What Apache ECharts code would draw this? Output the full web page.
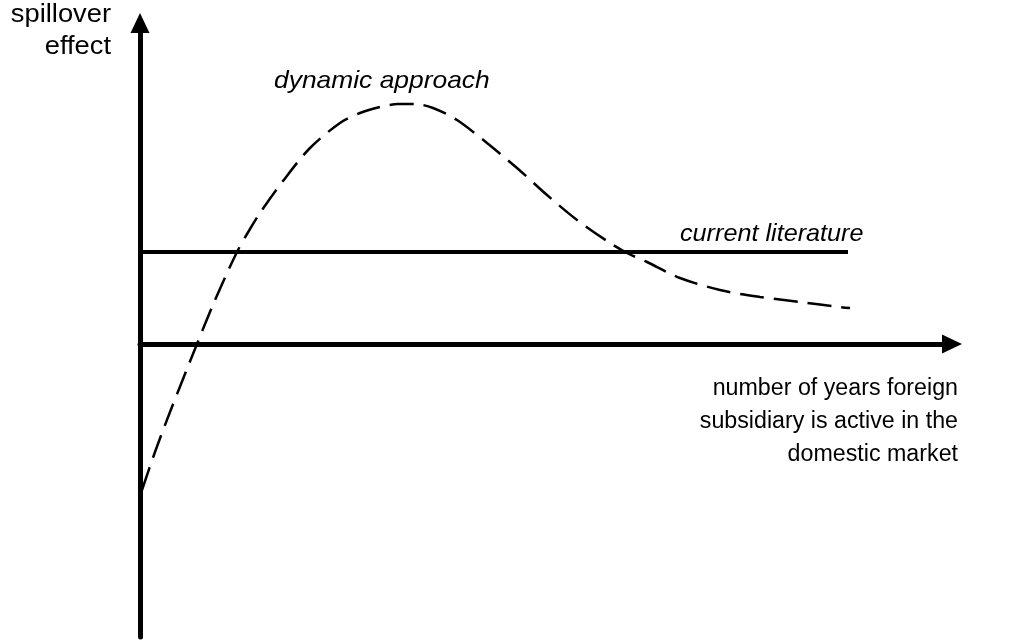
<!DOCTYPE html>
<html>
<head>
<meta charset="utf-8">
<script src="https://cdn.jsdelivr.net/npm/echarts@6/dist/echarts.min.js"></script>
<style>
html,body{margin:0;padding:0;background:#fff;}
#chart{width:1019px;height:641px;}
</style>
</head>
<body>
<div id="chart"></div>
<script>
// Conceptual curve: years active (x) vs spillover effect (y), arbitrary units
const dynamicX = [2, 15, 30, 57, 75, 97, 110, 120, 143, 170, 200, 220, 240, 258, 275, 293, 317, 347, 377, 407, 437, 470, 487, 507, 540, 580, 620, 660, 700, 710];
const dynamicY = [-146, -108, -68, 0, 44, 92, 115, 131, 163, 196, 221, 231, 237, 240, 240, 236, 224, 201, 176, 149, 124, 101, 91, 82, 66, 54, 47, 42, 37, 36];
const literatureX = [-7, 708];
const literatureY = [92, 92];
const xRange = [0, 812];
const yRange = [-293, 321];

const FONT = '"Liberation Sans", Arial, sans-serif';
const chart = echarts.init(document.getElementById('chart'));

function axisCommon(min, max) {
  return {
    type: 'value', min: min, max: max,
    axisLine: { show: true, onZero: true, symbol: ['none', 'triangle'], symbolSize: [19, 20],
      lineStyle: { color: '#000', width: 5 } },
    axisTick: { show: false }, axisLabel: { show: false }, splitLine: { show: false }
  };
}

function txt(text, x, y, align, italic, size, sx) {
  return { type: 'text', x: x, y: y, scaleX: sx, silent: true,
    style: { text: text, fill: '#000', font: (italic ? 'italic ' : '') + size + 'px ' + FONT,
      align: align, verticalAlign: 'middle' } };
}

chart.setOption({
  backgroundColor: '#fff',
  animation: false,
  grid: { left: 140, top: 23, right: 67, bottom: 4 },
  xAxis: axisCommon(xRange[0], xRange[1]),
  yAxis: axisCommon(yRange[0], yRange[1]),
  series: [
    { type: 'line', name: 'current literature', clip: false, symbol: 'none',
      data: literatureX.map((x, i) => [x, literatureY[i]]),
      lineStyle: { color: '#000', width: 4 } },
    { type: 'line', name: 'dynamic approach', clip: false, symbol: 'none', smooth: 0.3,
      data: dynamicX.map((x, i) => [x, dynamicY[i]]),
      lineStyle: { color: '#000', width: 2.5, type: [24, 10] } }
  ],
  graphic: [
    txt('spillover', 111, 15, 'right', false, 26, 1.05),
    txt('effect', 111, 47, 'right', false, 26, 1.05),
    txt('dynamic approach', 274, 81, 'left', true, 24, 1.1),
    txt('current literature', 680, 234, 'left', true, 24, 1.05),
    txt('number of years foreign', 958, 389, 'right', false, 23, 1.01),
    txt('subsidiary is active in the', 958, 422, 'right', false, 23, 1.01),
    txt('domestic market', 958, 455, 'right', false, 23, 1.01)
  ]
});
</script>
</body>
</html>
